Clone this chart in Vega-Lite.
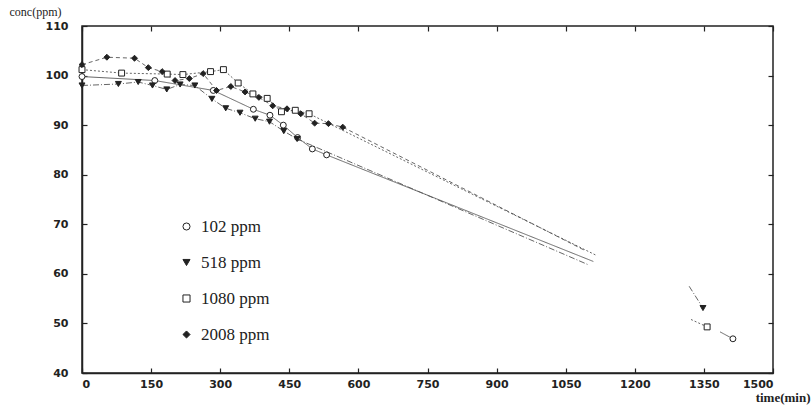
{
  "$schema": "https://vega.github.io/schema/vega-lite/v6.json",
  "width": 691,
  "height": 347,
  "autosize": {"type": "none"},
  "padding": {"left": 82, "top": 26, "right": 38, "bottom": 32},
  "background": "white",
  "config": {
    "view": {"stroke": "#222", "strokeWidth": 1.5},
    "axis": {
      "grid": false,
      "domainColor": "#222",
      "domainWidth": 1.5,
      "tickColor": "#222",
      "tickWidth": 1.2,
      "tickSize": -5,
      "labelFont": "DejaVu Sans",
      "labelFontWeight": "bold",
      "labelFontSize": 11,
      "labelColor": "#222",
      "format": "d"
    },
    "legend": {
      "padding": 0,
      "labelFont": "Liberation Serif",
      "labelFontSize": 17,
      "labelColor": "#222",
      "labelOffset": 6,
      "rowPadding": 18,
      "symbolSize": 50,
      "symbolStrokeWidth": 1
    }
  },
  "data": {
    "values": [
      {"s": "102 ppm", "g": 1, "t": 0, "c": 99.8, "m": 1},
      {"s": "102 ppm", "g": 1, "t": 158, "c": 99.0, "m": 1},
      {"s": "102 ppm", "g": 1, "t": 285, "c": 97.0, "m": 1},
      {"s": "102 ppm", "g": 1, "t": 372, "c": 93.2, "m": 1},
      {"s": "102 ppm", "g": 1, "t": 408, "c": 92.0, "m": 1},
      {"s": "102 ppm", "g": 1, "t": 437, "c": 90.0, "m": 1},
      {"s": "102 ppm", "g": 1, "t": 468, "c": 87.5, "m": 1},
      {"s": "102 ppm", "g": 1, "t": 500, "c": 85.2, "m": 1},
      {"s": "102 ppm", "g": 1, "t": 531, "c": 84.0, "m": 1},
      {"s": "102 ppm", "g": 1, "t": 1110, "c": 62.5, "m": 0},
      {"s": "102 ppm", "g": 2, "t": 1385, "c": 48.3, "m": 0},
      {"s": "102 ppm", "g": 2, "t": 1413, "c": 46.9, "m": 1},

      {"s": "518 ppm", "g": 1, "t": 0, "c": 98.0, "m": 1},
      {"s": "518 ppm", "g": 1, "t": 79, "c": 98.3, "m": 1},
      {"s": "518 ppm", "g": 1, "t": 122, "c": 98.7, "m": 1},
      {"s": "518 ppm", "g": 1, "t": 153, "c": 98.0, "m": 1},
      {"s": "518 ppm", "g": 1, "t": 184, "c": 97.2, "m": 1},
      {"s": "518 ppm", "g": 1, "t": 213, "c": 98.2, "m": 1},
      {"s": "518 ppm", "g": 1, "t": 245, "c": 98.0, "m": 1},
      {"s": "518 ppm", "g": 1, "t": 282, "c": 95.3, "m": 1},
      {"s": "518 ppm", "g": 1, "t": 312, "c": 93.4, "m": 1},
      {"s": "518 ppm", "g": 1, "t": 343, "c": 92.5, "m": 1},
      {"s": "518 ppm", "g": 1, "t": 376, "c": 91.3, "m": 1},
      {"s": "518 ppm", "g": 1, "t": 407, "c": 90.7, "m": 1},
      {"s": "518 ppm", "g": 1, "t": 438, "c": 88.8, "m": 1},
      {"s": "518 ppm", "g": 1, "t": 467, "c": 87.2, "m": 1},
      {"s": "518 ppm", "g": 1, "t": 1100, "c": 61.8, "m": 0},
      {"s": "518 ppm", "g": 2, "t": 1318, "c": 57.5, "m": 0},
      {"s": "518 ppm", "g": 2, "t": 1348, "c": 53.1, "m": 1},

      {"s": "1080 ppm", "g": 1, "t": 0, "c": 101.2, "m": 1},
      {"s": "1080 ppm", "g": 1, "t": 86, "c": 100.5, "m": 1},
      {"s": "1080 ppm", "g": 1, "t": 185, "c": 100.3, "m": 1},
      {"s": "1080 ppm", "g": 1, "t": 219, "c": 100.2, "m": 1},
      {"s": "1080 ppm", "g": 1, "t": 279, "c": 100.8, "m": 1},
      {"s": "1080 ppm", "g": 1, "t": 307, "c": 101.2, "m": 1},
      {"s": "1080 ppm", "g": 1, "t": 339, "c": 98.5, "m": 1},
      {"s": "1080 ppm", "g": 1, "t": 371, "c": 96.3, "m": 1},
      {"s": "1080 ppm", "g": 1, "t": 402, "c": 95.4, "m": 1},
      {"s": "1080 ppm", "g": 1, "t": 433, "c": 92.7, "m": 1},
      {"s": "1080 ppm", "g": 1, "t": 463, "c": 93.0, "m": 1},
      {"s": "1080 ppm", "g": 1, "t": 493, "c": 92.3, "m": 1},
      {"s": "1080 ppm", "g": 1, "t": 1115, "c": 63.8, "m": 0},
      {"s": "1080 ppm", "g": 2, "t": 1322, "c": 50.8, "m": 0},
      {"s": "1080 ppm", "g": 2, "t": 1357, "c": 49.3, "m": 1},

      {"s": "2008 ppm", "g": 1, "t": 0, "c": 102.2, "m": 1},
      {"s": "2008 ppm", "g": 1, "t": 54, "c": 103.7, "m": 1},
      {"s": "2008 ppm", "g": 1, "t": 114, "c": 103.5, "m": 1},
      {"s": "2008 ppm", "g": 1, "t": 144, "c": 101.6, "m": 1},
      {"s": "2008 ppm", "g": 1, "t": 174, "c": 100.8, "m": 1},
      {"s": "2008 ppm", "g": 1, "t": 202, "c": 99.0, "m": 1},
      {"s": "2008 ppm", "g": 1, "t": 233, "c": 99.4, "m": 1},
      {"s": "2008 ppm", "g": 1, "t": 263, "c": 100.4, "m": 1},
      {"s": "2008 ppm", "g": 1, "t": 292, "c": 97.0, "m": 1},
      {"s": "2008 ppm", "g": 1, "t": 323, "c": 97.8, "m": 1},
      {"s": "2008 ppm", "g": 1, "t": 354, "c": 96.7, "m": 1},
      {"s": "2008 ppm", "g": 1, "t": 384, "c": 95.6, "m": 1},
      {"s": "2008 ppm", "g": 1, "t": 414, "c": 93.9, "m": 1},
      {"s": "2008 ppm", "g": 1, "t": 445, "c": 93.3, "m": 1},
      {"s": "2008 ppm", "g": 1, "t": 475, "c": 92.3, "m": 1},
      {"s": "2008 ppm", "g": 1, "t": 505, "c": 90.4, "m": 1},
      {"s": "2008 ppm", "g": 1, "t": 535, "c": 90.3, "m": 1},
      {"s": "2008 ppm", "g": 1, "t": 566, "c": 89.6, "m": 1},
      {"s": "2008 ppm", "g": 1, "t": 1090, "c": 64.8, "m": 0}
    ]
  },
  "resolve": {"axis": {"x": "independent", "y": "independent"}, "legend": {"strokeDash": "independent"}},
  "layer": [
    {
      "mark": {"type": "line", "strokeWidth": 0.9, "color": "#555"},
      "encoding": {
        "x": {
          "field": "t", "type": "quantitative",
          "scale": {"domain": [0, 1500], "nice": false, "zero": false},
          "axis": {
            "orient": "bottom",
            "values": [0, 150, 300, 450, 600, 750, 900, 1050, 1200, 1350, 1500],
            "labelPadding": 10,
            "title": "time(min)",
            "titleFont": "Liberation Serif",
            "titleFontSize": 13,
            "titleFontWeight": "bold",
            "titleColor": "#222",
            "titleAlign": "right",
            "titleBaseline": "middle",
            "titleX": 728,
            "titleY": 24
          }
        },
        "y": {
          "field": "c", "type": "quantitative",
          "scale": {"domain": [40, 110], "nice": false, "zero": false},
          "axis": {
            "orient": "left",
            "values": [40, 50, 60, 70, 80, 90, 100, 110],
            "labelPadding": 19,
            "title": "conc(ppm)",
            "titleFont": "Liberation Serif",
            "titleFontSize": 12,
            "titleFontWeight": "normal",
            "titleColor": "#222",
            "titleAngle": 0,
            "titleAlign": "left",
            "titleBaseline": "middle",
            "titleX": -73,
            "titleY": -15
          }
        },
        "detail": {"field": "g", "type": "nominal"},
        "strokeDash": {
          "field": "s", "type": "nominal",
          "scale": {"domain": ["102 ppm", "518 ppm", "1080 ppm", "2008 ppm"], "range": [[1, 0], [6, 2, 1, 2], [2, 2], [4, 3]]},
          "legend": null
        }
      }
    },
    {
      "transform": [{"filter": "datum.m == 1"}],
      "mark": {"type": "point", "filled": true, "strokeWidth": 1, "size": 35, "opacity": 1},
      "encoding": {
        "x": {
          "field": "t", "type": "quantitative",
          "axis": {
            "orient": "top",
            "values": [0, 150, 300, 450, 600, 750, 900, 1050, 1200, 1350, 1500],
            "labels": false, "domain": false, "title": null
          }
        },
        "y": {
          "field": "c", "type": "quantitative",
          "axis": {
            "orient": "right",
            "values": [40, 50, 60, 70, 80, 90, 100, 110],
            "labels": false, "domain": false, "title": null
          }
        },
        "shape": {
          "field": "s", "type": "nominal",
          "scale": {"domain": ["102 ppm", "518 ppm", "1080 ppm", "2008 ppm"], "range": ["circle", "triangle-down", "square", "diamond"]},
          "legend": {"title": null, "orient": "none", "legendX": 96, "legendY": 192}
        },
        "fill": {
          "field": "s", "type": "nominal",
          "scale": {"domain": ["102 ppm", "518 ppm", "1080 ppm", "2008 ppm"], "range": ["white", "#222", "white", "#222"]},
          "legend": {"title": null, "orient": "none", "legendX": 96, "legendY": 192}
        },
        "stroke": {
          "field": "s", "type": "nominal",
          "scale": {"domain": ["102 ppm", "518 ppm", "1080 ppm", "2008 ppm"], "range": ["#222", "#222", "#222", "#222"]},
          "legend": {"title": null, "orient": "none", "legendX": 96, "legendY": 192}
        }
      }
    }
  ]
}
